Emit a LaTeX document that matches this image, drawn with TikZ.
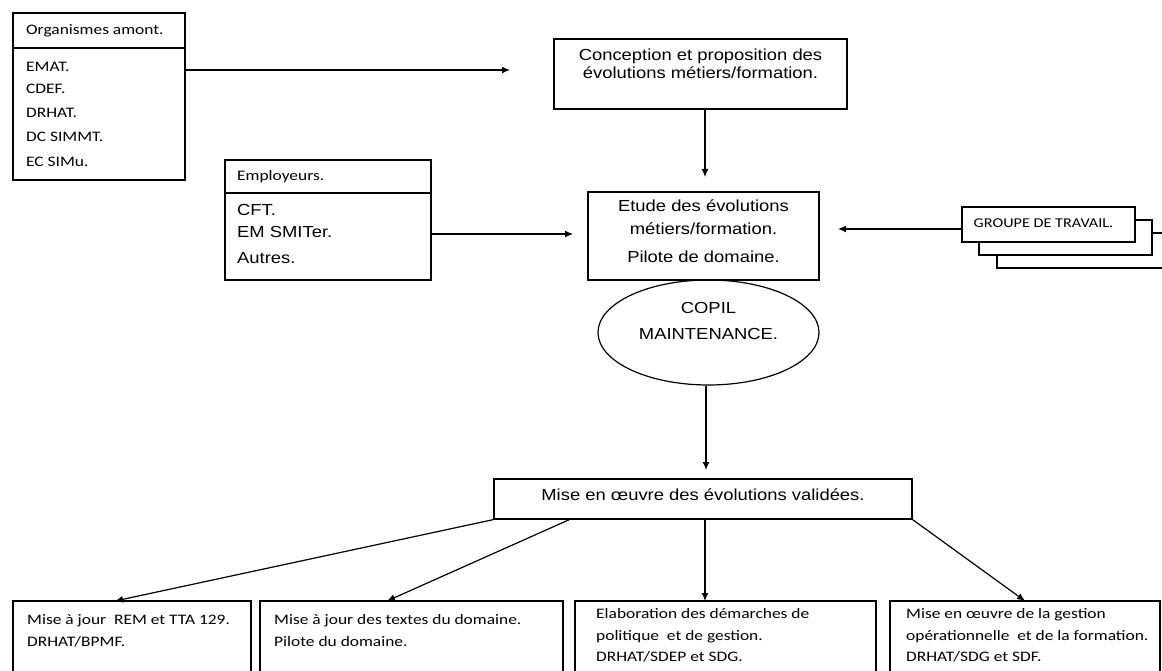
\documentclass[tikz,border=0pt]{standalone}
\usepackage{fontspec}
\setmainfont{Liberation Sans}
\newfontfamily\calfont[FakeStretch=1.2]{Carlito}
\newfontfamily\arifont[FakeStretch=1.15]{Liberation Sans}
\usetikzlibrary{shapes.geometric,arrows.meta}
\newcommand\calT{\calfont\fontsize{14.5pt}{17pt}\selectfont}
\newcommand\calG{\calfont\fontsize{13.5pt}{16pt}\selectfont}
\newcommand\ariT{\arifont\fontsize{16pt}{19pt}\selectfont}
\begin{document}
\begin{tikzpicture}[x=1pt,y=-1pt,
 bx/.style={draw=black, line width=1.2pt, fill=white, rectangle, inner sep=0pt},
 arr/.style={draw=black, line width=1.2pt, -{Latex[length=8pt,width=7pt]}},
 ln/.style={draw=black, line width=1.2pt},
 tc/.style={font=\calT, anchor=base west, inner sep=0pt},
 ta/.style={font=\ariT, anchor=base west, inner sep=0pt},
 tac/.style={font=\ariT, anchor=base, inner sep=0pt},
]
\clip (0,0) rectangle (1162,671);
\fill[white] (0,0) rectangle (1162,671);

% Organismes amont
\node[bx, minimum width=172pt, minimum height=167pt] (org) at (99,96.5) {};
\coordinate (orgsep) at (0,48);
\draw[ln] (org.west |- orgsep) -- (org.east |- orgsep);
\node[tc] (orgh) at (26,34.5) {Organismes amont.};
\node[tc] (org1) at (26,71.5) {EMAT.};
\node[tc] (org2) at (26,93.5) {CDEF.};
\node[tc] (org3) at (26,117.5) {DRHAT.};
\node[tc] (org4) at (26,141.5) {DC SIMMT.};
\node[tc] (org5) at (26,166.5) {EC SIMu.};

% Employeurs
\node[bx, minimum width=206pt, minimum height=120pt] (emp) at (328,220) {};
\coordinate (empsep) at (0,193);
\draw[ln] (emp.west |- empsep) -- (emp.east |- empsep);
\node[tc] (emph) at (237,180.5) {Employeurs.};
\node[ta] (emp1) at (237,215) {CFT.};
\node[ta] (emp2) at (237,237) {EM SMITer.};
\node[ta] (emp3) at (237,263) {Autres.};

% Conception
\node[bx, minimum width=293pt, minimum height=70pt] (conc) at (700.5,74) {};
\node[tac] (conc1) at (700.5,60.5) {Conception et proposition des};
\node[tac] (conc2) at (700.5,79) {évolutions métiers/formation.};

% Etude
\node[bx, minimum width=231pt, minimum height=88pt] (etu) at (703.5,236) {};
\node[tac] (etu1) at (703.5,212) {Etude des évolutions};
\node[tac] (etu2) at (703.5,235) {métiers/formation.};
\node[tac] (etu3) at (703.5,262) {Pilote de domaine.};

% COPIL
\node[ellipse, draw=black, line width=1.2pt, minimum width=221pt, minimum height=105pt, inner sep=0pt] (cop) at (708.5,332.5) {};
\node[tac] (cop1) at (708.5,313) {COPIL};
\node[tac] (cop2) at (708.5,339) {MAINTENANCE.};

% Groupe de travail (stack)
\node[bx, minimum width=173pt, minimum height=35pt] (grp3) at (1083.5,250.5) {};
\node[bx, minimum width=173pt, minimum height=35pt] (grp2) at (1065.5,237.5) {};
\node[bx, minimum width=173pt, minimum height=35pt] (grp) at (1048.5,224.5) {};
\node[font=\calG, anchor=base, inner sep=0pt] (grpt) at (1043.5,228) {GROUPE DE TRAVAIL.};

% Mise en oeuvre
\node[bx, minimum width=418pt, minimum height=40pt] (mise) at (703,499) {};
\node[tac] (miset) at (703,500) {Mise en œuvre des évolutions validées.};

% Bottom boxes
\node[bx, minimum width=238pt, minimum height=99pt] (b1) at (132,650.5) {};
\node[bx, minimum width=303pt, minimum height=99pt] (b2) at (411.5,650.5) {};
\node[bx, minimum width=301pt, minimum height=99pt] (b3) at (725.5,650.5) {};
\node[bx, minimum width=270pt, minimum height=99pt] (b4) at (1025,650.5) {};

\node[tc] (b1a) at (27,624) {Mise à jour\ \ REM et TTA 129.};
\node[tc] (b1b) at (27,646) {DRHAT/BPMF.};
\node[tc] (b2a) at (274,624) {Mise à jour des textes du domaine.};
\node[tc] (b2b) at (274,646) {Pilote du domaine.};
\node[tc] (b3a) at (596,618) {Elaboration des démarches de};
\node[tc] (b3b) at (596,640) {politique\ \ et de gestion.};
\node[tc] (b3c) at (596,661) {DRHAT/SDEP et SDG.};
\node[tc] (b4a) at (906,618) {Mise en œuvre de la gestion};
\node[tc] (b4b) at (906,640) {opérationnelle\ \ et de la formation.};
\node[tc] (b4c) at (906,661) {DRHAT/SDG et SDF.};

% Connectors
\coordinate (a1) at (510,70);
\draw[arr] (org.east |- a1) -- (a1);
\coordinate (a2) at (705,177);
\draw[arr] (conc.south -| a2) -- (a2);
\coordinate (a3) at (573,234);
\draw[arr] (emp.east |- a3) -- (a3);
\coordinate (a4) at (838,229);
\draw[arr] (grp.west |- a4) -- (a4);
\coordinate (a5) at (706,470);
\draw[arr] (cop.south -| a5) -- (a5);

\coordinate (t1) at (115,601);
\draw[arr] (mise.south west) -- (t1);
\coordinate (t2) at (387,601);
\draw[arr] ([xshift=76pt]mise.south west) -- (t2);
\coordinate (t3) at (705,601);
\draw[arr] (mise.south -| t3) -- (t3);
\coordinate (t4) at (1025,601);
\draw[arr] (mise.south east) -- (t4);
\end{tikzpicture}
\end{document}
